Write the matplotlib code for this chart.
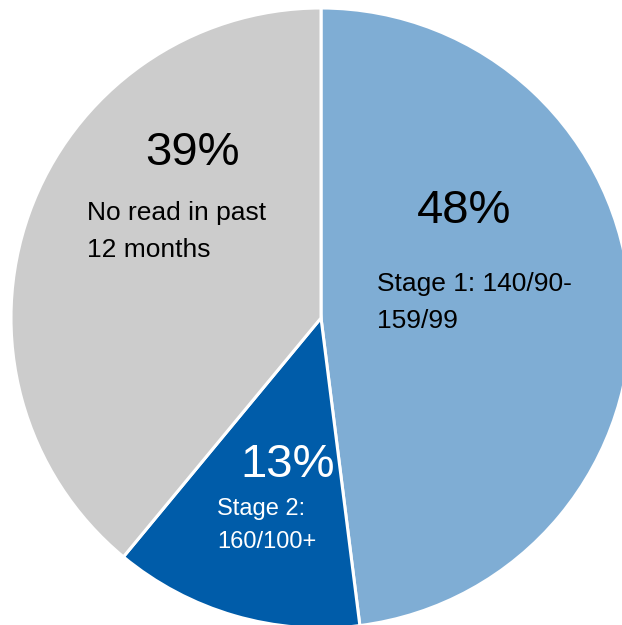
import matplotlib.pyplot as plt

plt.rcParams['font.family'] = ['Liberation Sans', 'DejaVu Sans']

shares = [48, 13, 39]
pct_labels = ['48%', '13%', '39%']
desc_labels = [['Stage 1: 140/90-', '159/99'],
               ['Stage 2:', '160/100+'],
               ['No read in past', '12 months']]
colors = ['#7FADD4', '#005CA9', '#CCCCCC']
text_colors = ['black', 'white', 'black']

W, H = 622, 625
fig = plt.figure(figsize=(W / 100, H / 100), dpi=100)
ax = fig.add_axes([0, 0, 1, 1])
ax.set_xlim(0, W)
ax.set_ylim(0, H)
ax.axis('off')

ax.pie(shares, colors=colors, startangle=90, counterclock=False,
       center=(321, H - 318), radius=310, frame=True,
       wedgeprops=dict(edgecolor='white', linewidth=2.2))
ax.set_xlim(0, W)
ax.set_ylim(0, H)
ax.set_aspect('equal')
ax.axis('off')

# label placement (pixel coords, y from top): pct (x, baseline), desc (x, baseline1, step, size)
pct_pos = [(417, 223), (240, 477), (145, 165)]
desc_pos = [(377, 291, 37, 19), (217, 515, 33, 17), (87, 220, 37, 19)]

for i in range(len(shares)):
    px, py = pct_pos[i]
    ax.text(px, H - py, pct_labels[i], fontsize=34, color=text_colors[i],
            ha='left', va='baseline')
    dx, dy, step, size = desc_pos[i]
    for j, line in enumerate(desc_labels[i]):
        ax.text(dx, H - (dy + j * step), line, fontsize=size,
                color=text_colors[i], ha='left', va='baseline')

plt.savefig('out.png', dpi=100)
